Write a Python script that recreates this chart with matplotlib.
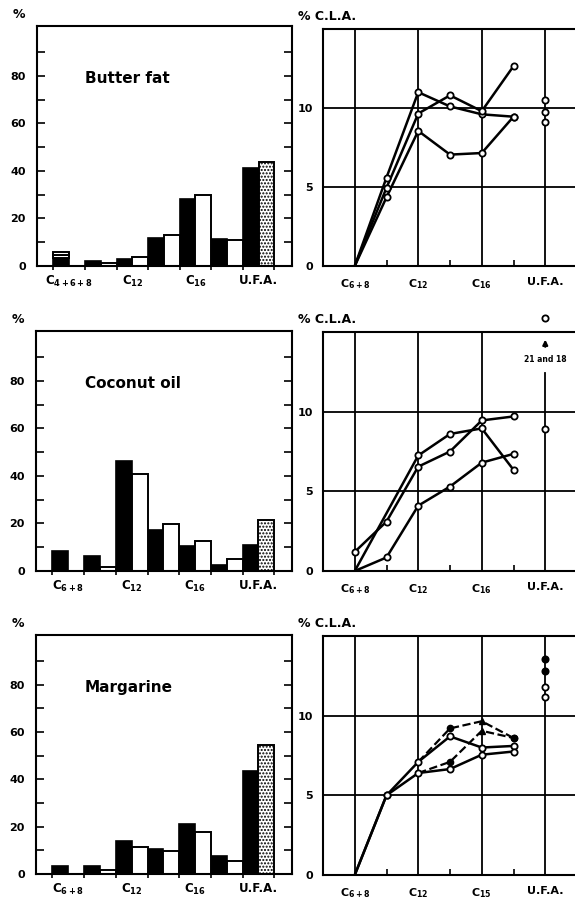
"""
Fatty acid composition (bars) and % C.L.A. by chain length (lines)
for butter fat, coconut oil and margarine.
"""

import numpy as np
import matplotlib
matplotlib.use("Agg")
import matplotlib.pyplot as plt

plt.rcParams['font.family'] = ['DejaVu Sans']
plt.rcParams['mathtext.fontset'] = 'dejavusans'
plt.rcParams['hatch.linewidth'] = 1.0

# ---- data -----------------------------------------------------------------
bar_titles = ['Butter fat', 'Coconut oil', 'Margarine']
bar_labels = [
    [r'$\mathbf{C_{4+6+8}}$', r'$\mathbf{C_{12}}$', r'$\mathbf{C_{16}}$', 'U.F.A.'],
    [r'$\mathbf{C_{6+8}}$', r'$\mathbf{C_{12}}$', r'$\mathbf{C_{16}}$', 'U.F.A.'],
    [r'$\mathbf{C_{6+8}}$', r'$\mathbf{C_{12}}$', r'$\mathbf{C_{16}}$', 'U.F.A.'],
]
line_labels = [
    [r'$\mathbf{C_{6+8}}$', r'$\mathbf{C_{12}}$', r'$\mathbf{C_{16}}$', 'U.F.A.'],
    [r'$\mathbf{C_{6+8}}$', r'$\mathbf{C_{12}}$', r'$\mathbf{C_{16}}$', 'U.F.A.'],
    [r'$\mathbf{C_{6+8}}$', r'$\mathbf{C_{12}}$', r'$\mathbf{C_{15}}$', 'U.F.A.'],
]

# groups: C(4)6+8, C10, C12, C14, C16, C18, U.F.A.
butter_black = [3.2, 2.1, 2.8, 11.8, 28.3, 11.4, 41.1]
butter_white = [0.0, 1.3, 3.8, 13.2, 29.9, 11.1, 43.7]
butter_short_extra = [1.3, 1.5]  # stacked white layers on the C4+6+8 bar

coconut_black = [8.5, 6.4, 46.5, 17.4, 10.4, 2.4, 11.1]
coconut_white = [0.0, 1.5, 40.7, 19.7, 12.8, 5.1, 21.5]

margarine_black = [3.5, 3.2, 14.1, 10.6, 21.1, 7.4, 43.4]
margarine_white = [0.0, 1.8, 11.6, 9.7, 17.6, 5.5, 54.4]

# % C.L.A. at C6+8, C10, C12, C14, C16, C18 ; U.F.A. separately
nan = np.nan
butter_cla = [
    [0, 5.6, 11.0, 10.1, 9.6, 9.45],
    [0, 4.95, 9.65, 10.8, 9.8, 12.65],
    [0, 4.35, 8.55, 7.05, 7.15, 9.45],
]
butter_ufa = [10.5, 9.75, 9.1]

coconut_cla = [
    [1.2, 3.1, 6.55, 7.5, 9.45, 9.7],
    [0, nan, 7.25, 8.6, 8.95, 6.35],
    [0, 0.85, 4.1, 5.3, 6.8, 7.35],
]
coconut_ufa = [8.9]
coconut_ufa_offscale = 15.9  # values 21 and 18

margarine_cla = [
    [0, 5.0, 7.1, 8.7, 8.0, 8.1],
    [0, 5.0, 6.4, 6.65, 7.55, 7.75],
]
margarine_cla_dashed = [
    [nan, nan, 7.1, 9.2, 9.65, 8.6],
    [nan, nan, 6.4, 7.1, 9.05, 8.6],
]
margarine_ufa_open = [11.8, 11.2]
margarine_ufa_filled = [13.55, 12.8]

# ---- layout (pixel boxes) -------------------------------------------------
W, H = 575, 901
fig = plt.figure(figsize=(W / 100, H / 100), dpi=100)


def box(x0, x1, top, bottom):
    return [x0 / W, (H - bottom) / H, (x1 - x0) / W, (bottom - top) / H]


left_boxes = [box(37, 292, 26, 266), box(36, 292, 331, 571), box(36, 292, 635, 874)]
right_boxes = [box(323, 577, 29, 266), box(323, 577, 332, 571), box(323, 577, 636, 875)]

tick_font = dict(fontsize=8, fontweight='bold')


def draw_bars(ax, black, white, title, labels, extra=None):
    n = len(black)
    pos = np.arange(n)
    ax.bar(pos, black, width=0.5, align='edge', color='black',
           edgecolor='black', linewidth=1.2)
    ax.bar(pos[:-1] + 0.5, white[:-1], width=0.5, align='edge', color='white',
           edgecolor='black', linewidth=1.4)
    ax.bar(pos[-1] + 0.5, white[-1], width=0.5, align='edge', color='white',
           edgecolor='black', linewidth=1.4, hatch='.....')
    if extra is not None:
        base = black[0]
        for h in extra:
            ax.bar(0, h, bottom=base, width=0.5, align='edge', color='white',
                   edgecolor='black', linewidth=1.4)
            base += h
    ax.set_xlim(-0.52, 7.56)
    ax.set_ylim(0, 101)
    for s in ax.spines.values():
        s.set_linewidth(1.5)
    ax.set_yticks(np.arange(0, 100, 10))
    ax.set_yticklabels([str(v) if v % 20 == 0 else '' for v in range(0, 100, 10)],
                       **tick_font)
    ax.tick_params(axis='y', direction='in', length=6, width=1.2, pad=8,
                   right=True)
    ax.set_xticks(np.arange(0, 8))
    ax.set_xticklabels([])
    ax.tick_params(axis='x', which='major', direction='out', length=3, width=1.2)
    ax.set_xticks([0.5, 2.5, 4.5, 6.5], minor=True)
    ax.set_xticklabels(labels, minor=True, fontsize=8.5, fontweight='bold')
    ax.tick_params(axis='x', which='minor', length=0, pad=6)
    ax.text(0.19, 0.78, title, transform=ax.transAxes, fontsize=11,
            fontweight='bold', ha='left', va='center')
    ax.text(-0.07, 1.02, '%', transform=ax.transAxes, fontsize=9,
            fontweight='bold', ha='center', va='bottom')


def setup_cla(ax, labels, ufa_grid_top=15):
    ax.set_xlim(-1, 7)
    ax.set_ylim(0, 15)
    for s in ax.spines.values():
        s.set_linewidth(1.5)
    for gx in [0, 2, 4]:
        ax.axvline(gx, color='black', linewidth=1.3, zorder=1)
    ax.axvline(6, ymax=ufa_grid_top / 15, color='black', linewidth=1.3, zorder=1)
    for gy in [5, 10]:
        ax.axhline(gy, color='black', linewidth=1.3, zorder=1)
    ax.set_yticks([0, 5, 10])
    ax.set_yticklabels(['0', '5', '10'], **tick_font)
    ax.tick_params(axis='y', length=0, pad=7)
    ax.set_xticks([0, 2, 4, 6])
    ax.set_xticklabels(labels, fontsize=8, fontweight='bold')
    ax.tick_params(axis='x', which='major', length=0, pad=8)
    ax.set_xticks([1, 3, 5], minor=True)
    ax.tick_params(axis='x', which='minor', direction='in', length=4, width=1.2)
    ax.text(-0.1, 1.025, '% C.L.A.', transform=ax.transAxes, fontsize=9,
            fontweight='bold', ha='left', va='bottom')


def plot_series(ax, y, ls='-', filled=False):
    y = np.asarray(y, dtype=float)
    x = np.arange(len(y))
    ok = ~np.isnan(y)
    x, y = x[ok], y[ok]
    start = 1 if y[0] == 0 else 0
    ax.plot(x, y, ls, color='black', linewidth=1.8, zorder=3)
    ax.plot(x[start:], y[start:], 'o', color='black', markersize=4.5,
            markerfacecolor='black' if filled else 'white',
            markeredgewidth=1.3, zorder=4)


def plot_ufa(ax, vals, filled=False):
    ax.plot([6] * len(vals), vals, 'o', color='black', markersize=4.5,
            markerfacecolor='black' if filled else 'white',
            markeredgewidth=1.3, zorder=4, clip_on=False)


# ---- bar panels -----------------------------------------------------------
bar_sets = [(butter_black, butter_white, butter_short_extra),
            (coconut_black, coconut_white, None),
            (margarine_black, margarine_white, None)]
for i, (blk, wht, extra) in enumerate(bar_sets):
    ax = fig.add_axes(left_boxes[i])
    draw_bars(ax, blk, wht, bar_titles[i], bar_labels[i], extra)

# ---- C.L.A. panels --------------------------------------------------------
ax1 = fig.add_axes(right_boxes[0])
setup_cla(ax1, line_labels[0])
for s in butter_cla:
    plot_series(ax1, s)
plot_ufa(ax1, butter_ufa)

ax2 = fig.add_axes(right_boxes[1])
setup_cla(ax2, line_labels[1], ufa_grid_top=12.4)
for s in coconut_cla:
    plot_series(ax2, s)
plot_ufa(ax2, coconut_ufa)
plot_ufa(ax2, [coconut_ufa_offscale])
ax2.annotate('', xy=(6, 14.7), xytext=(6, 13.9),
             arrowprops=dict(arrowstyle='-|>', color='black', lw=1.6,
                             mutation_scale=7),
             annotation_clip=False)
ax2.text(6, 13.3, '21 and 18', fontsize=5.5, fontweight='bold',
         ha='center', va='center')

ax3 = fig.add_axes(right_boxes[2])
setup_cla(ax3, line_labels[2])
for s in margarine_cla:
    plot_series(ax3, s)
for s in margarine_cla_dashed:
    y = np.asarray(s, dtype=float)
    x = np.arange(len(y))
    ok = ~np.isnan(y)
    ax3.plot(x[ok], y[ok], '--', color='black', linewidth=1.6, zorder=3)
    for xi, yi in zip(x[ok][1:], y[ok][1:]):
        mk = '^' if xi == 4 else 'o'
        ax3.plot(xi, yi, mk, color='black', markersize=4.5, zorder=5)
plot_ufa(ax3, margarine_ufa_open)
plot_ufa(ax3, margarine_ufa_filled, filled=True)

fig.savefig('out.png', dpi=100)
